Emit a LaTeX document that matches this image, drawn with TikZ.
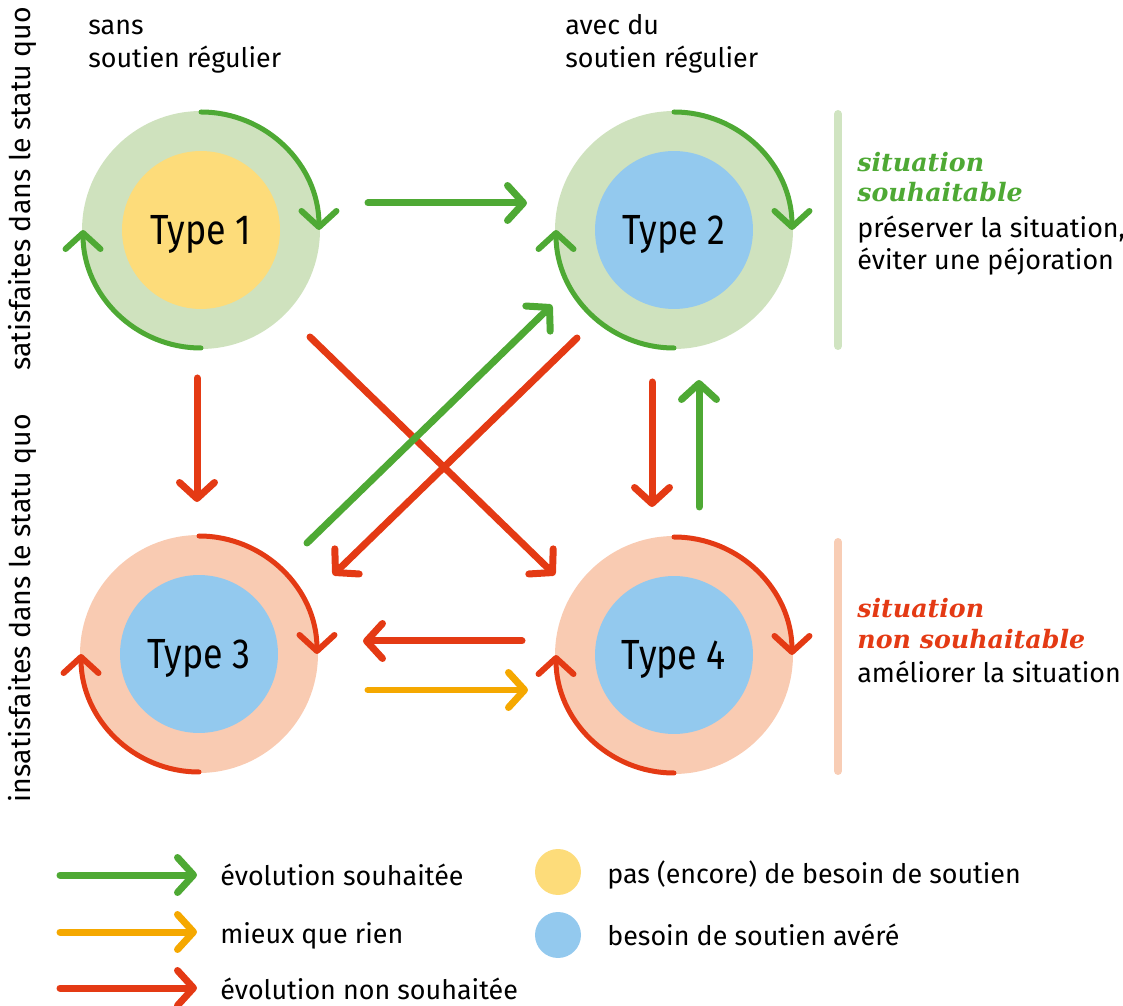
\documentclass[tikz,border=0pt]{standalone}
\usepackage{fontspec}
\newfontfamily\fira{Fira Sans}
\newfontfamily\firanarrow[FakeStretch=0.85]{Fira Sans}
\newfontfamily\dvserif{DejaVu Serif}
\usetikzlibrary{arrows.meta,calc}
\definecolor{cgreen}{HTML}{4EA934}
\definecolor{cred}{HTML}{E43A14}
\definecolor{corange}{HTML}{F5A800}
\definecolor{lgreen}{HTML}{CFE2BE}
\definecolor{lsalmon}{HTML}{F9CBB2}
\definecolor{cyellow}{HTML}{FDDC7A}
\definecolor{cblue}{HTML}{93C9EE}
\definecolor{bargreen}{HTML}{D0E4C1}
\definecolor{barpink}{HTML}{F8CDB5}
\tikzset{
  conn/.style={line width=0.14cm, line cap=round, -{Straight Barb[length=0.32cm,width=0.7cm,round]}},
  ring/.style={line width=0.1cm, line cap=round, -{Straight Barb[length=0.32cm,width=0.7cm,round,line width=0.12cm]}},
  outer/.style={circle, minimum size=4.76cm, inner sep=0pt},
  inner/.style={circle, minimum size=3.16cm, inner sep=0pt, text height=0.58cm, text depth=0cm,
     font=\firanarrow\fontsize{24}{24}\selectfont},
  lbl/.style={font=\fira\fontsize{15.3}{18}\selectfont, inner sep=0pt, anchor=base west},
  rot/.style={font=\fira\fontsize{16.2}{18}\selectfont, inner sep=0pt, rotate=90, anchor=center},
  ttl/.style={font=\dvserif\bfseries\itshape\fontsize{14.4}{18}\selectfont, inner sep=0pt, anchor=base west},
  bar/.style={line width=0.16cm, line cap=round},
  dot/.style={circle, minimum size=0.92cm, inner sep=0pt}
}
\begin{document}
\begin{tikzpicture}[x=0.02cm, y=-0.02cm]
\useasboundingbox (0,0) rectangle (1123,1006);

% circles
\node[outer, fill=lgreen]  (c1) at (201,230) {};
\node[outer, fill=lgreen]  (c2) at (674,230) {};
\node[outer, fill=lsalmon] (c3) at (199,654) {};
\node[outer, fill=lsalmon] (c4) at (674,655) {};
\node[inner, fill=cyellow] (t1) at (c1) {Type 1};
\node[inner, fill=cblue]   (t2) at (c2) {Type 2};
\node[inner, fill=cblue]   (t3) at (c3) {Type 3};
\node[inner, fill=cblue]   (t4) at (c4) {Type 4};

% ring arrows
\draw[ring, cgreen] ($(c1)+(0,-118)$) arc[start angle=90, end angle=0, radius=2.36cm];
\draw[ring, cgreen] ($(c1)+(0,118)$) arc[start angle=270, end angle=180, radius=2.36cm];
\draw[ring, cgreen] ($(c2)+(0,-118)$) arc[start angle=90, end angle=0, radius=2.36cm];
\draw[ring, cgreen] ($(c2)+(0,118)$) arc[start angle=270, end angle=180, radius=2.36cm];
\draw[ring, cred] ($(c3)+(0,-118)$) arc[start angle=90, end angle=0, radius=2.36cm];
\draw[ring, cred] ($(c3)+(0,118)$) arc[start angle=270, end angle=180, radius=2.36cm];
\draw[ring, cred] ($(c4)+(0,-118)$) arc[start angle=90, end angle=0, radius=2.36cm];
\draw[ring, cred] ($(c4)+(0,118)$) arc[start angle=270, end angle=180, radius=2.36cm];

% connectors
\draw[conn, cred]    ($(c1)+(109,107)$) -- ($(c4)+(-119,-80)$);
\draw[conn, cgreen]  ($(c3)+(108,-111)$) -- ($(c2)+(-122,75)$);
\draw[conn, cred]    ($(c2)+(-97,108)$) -- ($(c3)+(134,-79)$);
\draw[conn, cgreen]  ($(c1)+(167,-27)$) -- ($(c2)+(-147,-27)$);
\draw[conn, cred]    ($(c1)+(-4,148)$) -- ($(c3)+(-2,-152)$);
\draw[conn, cred]    ($(c2)+(-22,152)$) -- ($(c4)+(-22,-148)$);
\draw[conn, cgreen]  ($(c4)+(25,-148)$) -- ($(c2)+(25,150)$);
\draw[conn, cred]    ($(c4)+(-152,-14)$) -- ($(c3)+(164,-13)$);
\draw[conn, corange] ($(c3)+(169,36)$) -- ($(c4)+(-146,35)$);

% column headers
\node[lbl] (h1a) at (88,35) {sans};
\node[lbl] (h1b) at (88,68) {soutien régulier};
\node[lbl] (h2a) at (565,35) {avec du};
\node[lbl] (h2b) at (565,68) {soutien régulier};

% row labels
\node[rot] (r1) at (22,189) {satisfaites dans le statu quo};
\node[rot] (r2) at (22,608) {insatisfaites dans le statu quo};

% right side
\draw[bar, bargreen] (838,114) -- (838,346);
\draw[bar, barpink]  (838,542) -- (838,771);
\node[ttl, text=cgreen] (s1) at (857,172) {situation};
\node[ttl, text=cgreen] (s2) at (857,202) {souhaitable};
\node[lbl] (s3) at (857,238) {préserver la situation,};
\node[lbl] (s4) at (857,270) {éviter une péjoration};
\node[ttl, text=cred] (n1) at (857,618) {situation};
\node[ttl, text=cred] (n2) at (857,649) {non souhaitable};
\node[lbl] (n3) at (857,683) {améliorer la situation};

% legend
\coordinate (lg1) at (60,875);  \coordinate (lg2) at (197,875);
\coordinate (lo1) at (60,932);  \coordinate (lo2) at (197,932);
\coordinate (lr1) at (60,988);  \coordinate (lr2) at (197,988);
\draw[conn, cgreen]  (lg1) -- (lg2);
\draw[conn, corange] (lo1) -- (lo2);
\draw[conn, cred]    (lr1) -- (lr2);
\node[lbl] (L1) at (220,885) {évolution souhaitée};
\node[lbl] (L2) at (220,943) {mieux que rien};
\node[lbl] (L3) at (220,999) {évolution non souhaitée};
\node[dot, fill=cyellow] (d1) at (558,872) {};
\node[dot, fill=cblue]   (d2) at (558,935) {};
\node[lbl] (L4) at (607,883) {pas (encore) de besoin de soutien};
\node[lbl] (L5) at (607,945) {besoin de soutien avéré};
\end{tikzpicture}
\end{document}
